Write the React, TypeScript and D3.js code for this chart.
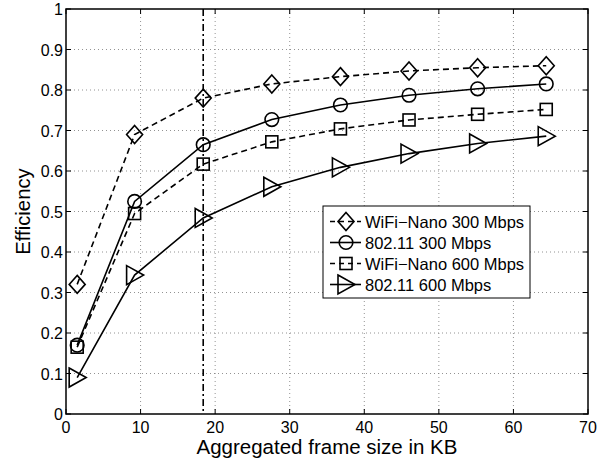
import React from "react";
import * as d3 from "d3";

const frameSizes = [1.5, 9.2, 18.4, 27.6, 36.8, 46.0, 55.2, 64.4];
const wifiNano300 = [0.32, 0.69, 0.78, 0.815, 0.833, 0.847, 0.855, 0.86];
const dot11_300 = [0.17, 0.525, 0.665, 0.727, 0.763, 0.787, 0.803, 0.815];
const wifiNano600 = [0.165, 0.495, 0.617, 0.672, 0.704, 0.726, 0.74, 0.752];
const dot11_600 = [0.09, 0.343, 0.484, 0.561, 0.609, 0.643, 0.668, 0.686];
const seriesNames = ["WiFi\u2212Nano 300 Mbps", "802.11 300 Mbps", "WiFi\u2212Nano 600 Mbps", "802.11 600 Mbps"];
const xTicks = [0, 10, 20, 30, 40, 50, 60, 70];
const yTicks = [0, 0.1, 0.2, 0.3, 0.4, 0.5, 0.6, 0.7, 0.8, 0.9, 1];
const markerLine = 18.4;

const W = 606, H = 462;
const L = 66, R = 588, T = 9, B = 414;
const font = "'Liberation Sans', Arial, Helvetica, sans-serif";

type Kind = "diamond" | "circle" | "square" | "triangle";

function Marker({ kind, x, y }: { kind: Kind; x: number; y: number }) {
  const p = { fill: "none", stroke: "#000", strokeWidth: 1.6 };
  if (kind === "diamond") return <path d={`M${x},${y - 9} L${x + 8},${y} L${x},${y + 9} L${x - 8},${y} Z`} {...p} />;
  if (kind === "circle") return <circle cx={x} cy={y} r={6.8} {...p} />;
  if (kind === "square") return <rect x={x - 6} y={y - 6} width={12} height={12} {...p} />;
  return <path d={`M${x - 8},${y - 9.5} L${x + 9},${y} L${x - 8},${y + 9.5} Z`} {...p} />;
}

export default function App() {
  const x = d3.scaleLinear().domain([0, 70]).range([L, R]);
  const y = d3.scaleLinear().domain([0, 1]).range([B, T]);
  const series: { vals: number[]; kind: Kind; dash: string | undefined }[] = [
    { vals: wifiNano300, kind: "diamond", dash: "6,4" },
    { vals: dot11_300, kind: "circle", dash: undefined },
    { vals: wifiNano600, kind: "square", dash: "6,4" },
    { vals: dot11_600, kind: "triangle", dash: undefined },
  ];
  const line = d3.line<number>().x((_, i) => x(frameSizes[i])).y((v) => y(v));
  const lg = { x: 323, y: 206, w: 207, h: 92 };
  return (
    <svg width={W} height={H} style={{ position: "absolute", left: 0, top: 0, background: "#fff" }}>
      <rect x={0} y={0} width={W} height={H} fill="#fff" />
      {xTicks.slice(1, -1).map((t) => (
        <line key={"gx" + t} x1={x(t)} x2={x(t)} y1={T} y2={B} stroke="#777" strokeWidth={0.8} strokeDasharray="1,3" />
      ))}
      {yTicks.slice(1, -1).map((t) => (
        <line key={"gy" + t} x1={L} x2={R} y1={y(t)} y2={y(t)} stroke="#777" strokeWidth={0.8} strokeDasharray="1,3" />
      ))}
      {xTicks.map((t) => (
        <g key={"tx" + t}>
          <line x1={x(t)} x2={x(t)} y1={B} y2={B - 5} stroke="#000" />
          <line x1={x(t)} x2={x(t)} y1={T} y2={T + 5} stroke="#000" />
          <text x={x(t)} y={B + 19} textAnchor="middle" fontFamily={font} fontSize={16}>{t}</text>
        </g>
      ))}
      {yTicks.map((t) => (
        <g key={"ty" + t}>
          <line x1={L} x2={L + 5} y1={y(t)} y2={y(t)} stroke="#000" />
          <line x1={R} x2={R - 5} y1={y(t)} y2={y(t)} stroke="#000" />
          <text x={L - 3} y={y(t) + 6} textAnchor="end" fontFamily={font} fontSize={16}>{d3.format("")(+t.toFixed(1))}</text>
        </g>
      ))}
      <line x1={x(markerLine)} x2={x(markerLine)} y1={T} y2={B} stroke="#000" strokeWidth={1.6} strokeDasharray="7,3,2,3" />
      {series.map((s, i) => (
        <g key={"s" + i}>
          <path d={line(s.vals) || ""} fill="none" stroke="#000" strokeWidth={1.6} strokeDasharray={s.dash} />
          {s.vals.map((v, j) => (
            <Marker key={j} kind={s.kind} x={x(frameSizes[j])} y={y(v)} />
          ))}
        </g>
      ))}
      <rect x={L} y={T} width={R - L} height={B - T} fill="none" stroke="#000" strokeWidth={1.5} />
      <g>
        <rect x={lg.x} y={lg.y} width={lg.w} height={lg.h} fill="#fff" stroke="#000" strokeWidth={1} />
        {series.map((s, i) => {
          const cy = lg.y + 15.5 + i * 21;
          return (
            <g key={"lg" + i}>
              <line x1={lg.x + 7} x2={lg.x + 38} y1={cy} y2={cy} stroke="#000" strokeWidth={1.6} strokeDasharray={s.dash ? "5,4" : undefined} />
              <Marker kind={s.kind} x={lg.x + 23} y={cy} />
              <text x={lg.x + 42} y={cy + 6} fontFamily={font} fontSize={16.5}>{seriesNames[i]}</text>
            </g>
          );
        })}
      </g>
      <text x={(L + R) / 2} y={454} textAnchor="middle" fontFamily={font} fontSize={20.5}>Aggregated frame size in KB</text>
      <text transform={`translate(30,${(T + B) / 2}) rotate(-90)`} textAnchor="middle" fontFamily={font} fontSize={20.3}>Efficiency</text>
    </svg>
  );
}
